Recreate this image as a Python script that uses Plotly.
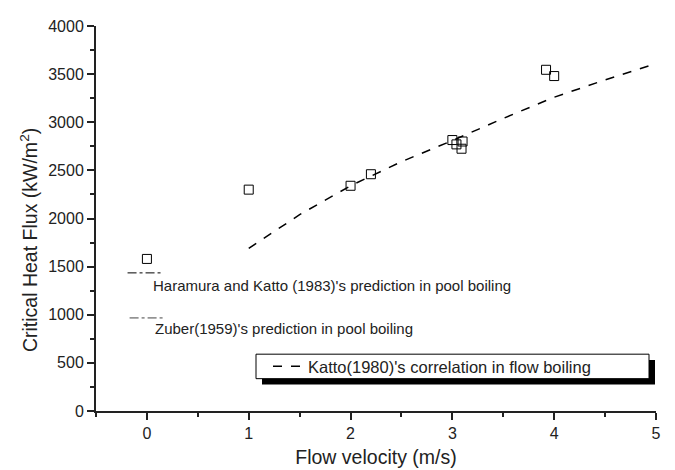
import plotly.graph_objects as go

# Experimental CHF data (open squares)
exp_v = [0.0, 1.0, 2.0, 2.2, 3.0, 3.04, 3.1, 3.09, 3.92, 4.0]
exp_q = [1580, 2300, 2340, 2460, 2815, 2770, 2800, 2725, 3545, 3480]

# Katto (1980) correlation
katto_v = [1.0, 1.5, 2.0, 2.5, 3.0, 3.5, 4.0, 4.5, 5.0]
katto_q = [1690, 2040, 2340, 2590, 2810, 3040, 3260, 3440, 3610]

# Pool boiling predictions (short dash-dot markers near v = 0)
haramura_v = [-0.19, 0.15]
haramura_q = [1435, 1435]
zuber_v = [-0.17, 0.16]
zuber_q = [967, 967]

font = "Arial, Liberation Sans, sans-serif"

fig = go.Figure()
fig.add_trace(go.Scatter(x=katto_v, y=katto_q, mode="lines",
                         line=dict(color="black", width=1.5, dash="dash"),
                         name="Katto(1980)'s correlation in flow boiling", showlegend=True))
fig.add_trace(go.Scatter(x=exp_v, y=exp_q, mode="markers",
                         marker=dict(symbol="square-open", size=9, color="black", line=dict(width=1)),
                         showlegend=False))
fig.add_trace(go.Scatter(x=haramura_v, y=haramura_q, mode="lines",
                         line=dict(color="black", width=1, dash="dashdot"), showlegend=False))
fig.add_trace(go.Scatter(x=zuber_v, y=zuber_q, mode="lines",
                         line=dict(color="#444", width=1, dash="dashdot"), showlegend=False))

fig.add_annotation(x=0.045, y=1303, xref="x", yref="y", xanchor="left", yanchor="middle",
                   text="Haramura and Katto (1983)'s prediction in pool boiling",
                   showarrow=False, font=dict(family=font, size=15, color="#222"))
fig.add_annotation(x=0.055, y=855, xref="x", yref="y", xanchor="left", yanchor="middle",
                   text="Zuber(1959)'s prediction in pool boiling",
                   showarrow=False, font=dict(family=font, size=15, color="#222"))

# y axis title placed as annotation (it sits lower than plot centre in the reference)
fig.add_annotation(x=-67/560, y=0.444, xref="paper", yref="paper", xanchor="center", yanchor="middle",
                   text="Critical Heat Flux (kW/m<sup>2</sup>)", textangle=-90,
                   showarrow=False, font=dict(family=font, size=19.5, color="#222"))

# legend frame with drop shadow
W, H = 560.0, 393.0
fig.add_shape(type="rect", xref="paper", yref="paper",
              x0=166/W, x1=559/W, y0=27/H, y1=52/H,
              fillcolor="black", line=dict(width=0), layer="above")
fig.add_shape(type="rect", xref="paper", yref="paper",
              x0=160/W, x1=553/W, y0=33/H, y1=58/H,
              fillcolor="white", line=dict(color="black", width=1), layer="above")

fig.update_layout(
    width=675, height=470,
    margin=dict(l=88, r=27, t=10, b=67),
    plot_bgcolor="white", paper_bgcolor="white",
    font=dict(family=font, size=16, color="#222"),
    legend=dict(x=172/W, y=45.5/H, xanchor="left", yanchor="middle",
                bgcolor="rgba(0,0,0,0)", borderwidth=0,
                font=dict(size=16.5), itemwidth=30),
    xaxis=dict(range=[-0.5, 5], dtick=1, tick0=0, showgrid=False, zeroline=False,
               showline=True, linecolor="#222", linewidth=2,
               ticks="outside", ticklen=7, tickwidth=2, tickcolor="#222",
               minor=dict(dtick=0.5, tick0=0, ticks="outside", ticklen=4, tickwidth=1.5, tickcolor="#222"),
               title=dict(text="Flow velocity (m/s)", font=dict(size=19.5), standoff=9)),
    yaxis=dict(range=[0, 4000], dtick=500, showgrid=False, zeroline=False,
               showline=True, linecolor="#222", linewidth=2,
               ticks="outside", ticklen=7, tickwidth=2, tickcolor="#222",
               minor=dict(dtick=250, ticks="outside", ticklen=4, tickwidth=1.5, tickcolor="#222")),
)
fig.write_html("out.html")
